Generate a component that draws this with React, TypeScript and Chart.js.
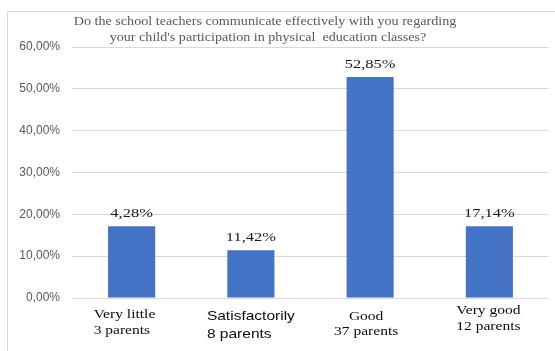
import React, { useEffect, useRef } from "react";
import { Chart, registerables } from "chart.js";

Chart.register(...registerables);

// ---- data ----
const titleLines = [
  "Do the school teachers communicate effectively with you regarding",
  "your child's participation in physical  education classes?",
];
const categories = ["Very little", "Satisfactorily", "Good", "Very good"];
const parentCounts = ["3 parents", "8 parents", "37 parents", "12 parents"];
const barValues = [17.14, 11.42, 52.85, 17.14];
const valueLabels = ["4,28%", "11,42%", "52,85%", "17,14%"];
const yTicks = [0, 10, 20, 30, 40, 50, 60];

// ---- style for category labels (layout only) ----
const SERIF = "'Liberation Serif', 'Times New Roman', serif";
const SANS = "'Liberation Sans', Arial, sans-serif";
const catStyle = [
  { font: `13.5px ${SERIF}`, align: "left", dx: -38, b1: 317.5, b2: 334 },
  { font: `13.5px ${SANS}`, align: "left", dx: -44, b1: 319.5, b2: 338 },
  { font: `13.5px ${SERIF}`, align: "center", dx: -4, b1: 320, b2: 334.5 },
  { font: `13.5px ${SERIF}`, align: "center", dx: -1, b1: 314, b2: 330 },
];
const SX = 1.15;

function drawText(
  ctx: CanvasRenderingContext2D,
  text: string,
  x: number,
  y: number,
  font: string,
  color: string,
  sx: number,
  align: CanvasTextAlign
) {
  ctx.save();
  ctx.font = font;
  ctx.fillStyle = color;
  ctx.textBaseline = "alphabetic";
  ctx.textAlign = align;
  ctx.translate(x, y);
  ctx.scale(sx, 1);
  ctx.fillText(text, 0, 0);
  ctx.restore();
}

const decorPlugin = {
  id: "decor",
  beforeDraw(chart: any) {
    const ctx = chart.ctx as CanvasRenderingContext2D;
    ctx.save();
    ctx.fillStyle = "#ffffff";
    ctx.fillRect(0, 0, chart.width, chart.height);
    ctx.strokeStyle = "#d9d9d9";
    ctx.lineWidth = 1;
    ctx.beginPath();
    ctx.moveTo(7.5, chart.height);
    ctx.lineTo(7.5, 11.5);
    ctx.lineTo(chart.width, 11.5);
    ctx.stroke();
    ctx.restore();
    // title
    drawText(ctx, titleLines[0], 265, 24.5, `12.5px ${SERIF}`, "#595959", 1.13, "center");
    drawText(ctx, titleLines[1], 268, 40.5, `12.5px ${SERIF}`, "#595959", 1.13, "center");
  },
  afterDatasetsDraw(chart: any) {
    const ctx = chart.ctx as CanvasRenderingContext2D;
    const meta = chart.getDatasetMeta(0);
    meta.data.forEach((el: any, i: number) => {
      drawText(ctx, valueLabels[i], el.x, el.y - 9, `13.5px ${SERIF}`, "#1a1a1a", 1.22, "center");
    });
    const xs = chart.scales.x;
    categories.forEach((c, i) => {
      const st = catStyle[i];
      const x = xs.getPixelForValue(i) + st.dx;
      drawText(ctx, c, x, st.b1, st.font, "#0d0d0d", SX, st.align as CanvasTextAlign);
      drawText(ctx, parentCounts[i], x, st.b2, st.font, "#0d0d0d", SX, st.align as CanvasTextAlign);
    });
  },
};

export default function App() {
  const ref = useRef<HTMLCanvasElement>(null);
  useEffect(() => {
    if (!ref.current) return;
    const chart = new Chart(ref.current, {
      type: "bar",
      data: {
        labels: categories,
        datasets: [
          {
            data: barValues,
            backgroundColor: "#4472C4",
            borderWidth: 0,
            categoryPercentage: 1,
            barPercentage: 0.395,
          },
        ],
      },
      options: {
        animation: false,
        responsive: false,
        devicePixelRatio: 1,
        layout: { padding: { left: 0, right: 6, top: 47, bottom: 53 } },
        plugins: {
          legend: { display: false },
          tooltip: { enabled: false },
          title: { display: false },
        },
        scales: {
          x: {
            ticks: { display: false },
            grid: { display: false },
            border: { display: false },
            afterFit: (s: any) => {
              s.height = 0;
            },
          },
          y: {
            min: yTicks[0],
            max: yTicks[yTicks.length - 1],
            afterBuildTicks: (s: any) => {
              s.ticks = yTicks.map((v) => ({ value: v }));
            },
            ticks: {
              padding: 12,
              color: "#595959",
              font: { family: "'Liberation Sans', Arial, sans-serif", size: 12 },
              callback: (v: any) => Number(v).toFixed(2).replace(".", ",") + "%",
            },
            grid: { color: "#d9d9d9", lineWidth: 1, drawTicks: false },
            border: { display: false },
            afterFit: (s: any) => {
              s.width = 72;
            },
          },
        },
      },
      plugins: [decorPlugin],
    });
    return () => chart.destroy();
  }, []);
  return (
    <div style={{ position: "fixed", left: 0, top: 0, width: 555, height: 351, background: "#fff" }}>
      <canvas ref={ref} width={555} height={351} style={{ display: "block", width: 555, height: 351 }} />
    </div>
  );
}
